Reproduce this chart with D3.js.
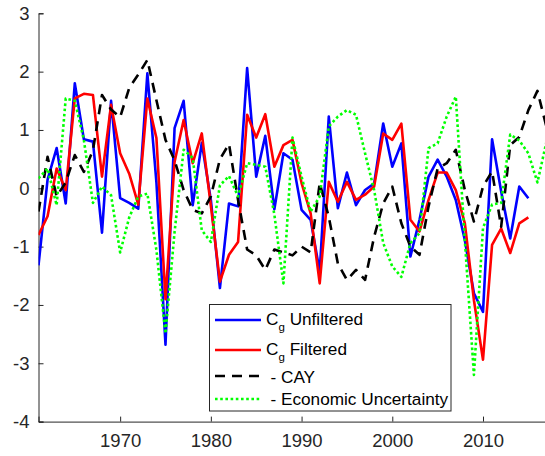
<!DOCTYPE html>
<html>
<head>
<meta charset="utf-8">
<script src="https://cdn.jsdelivr.net/npm/d3@7"></script>
<style>
  html, body { margin: 0; padding: 0; background: #fff; }
  svg { display: block; font-family: "Liberation Sans", Arial, Helvetica, sans-serif; }
</style>
</head>
<body>
<svg id="chart" width="545" height="456"></svg>
<script>
// Annual series, 1961 onwards
const yearsCg = d3.range(1961, 2016);
const yearsMacro = d3.range(1961, 2018);

const cgUnfiltered = [
  -1.32, 0.15, 0.69, -0.26, 1.80, 0.84, 0.80, -0.76, 1.50, -0.17,
  -0.25, -0.35, 1.97, 0.10, -2.68, 1.03, 1.50, -0.29, 0.78, -0.20,
  -1.71, -0.26, -0.31, 2.06, 0.20, 0.90, -0.36, 0.60, 0.49, -0.37,
  -0.54, -1.43, 1.23, -0.34, 0.27, -0.29, -0.03, 0.08, 1.11, 0.37,
  0.77, -1.17, -0.54, 0.20, 0.49, 0.20, -0.20, -0.89, -1.80, -2.12,
  0.84, -0.05, -0.86, 0.03, -0.17
];

const cgFiltered = [
  -0.80, -0.48, 0.34, -0.03, 1.54, 1.62, 1.60, 0.20, 1.43, 0.60,
  0.25, -0.28, 1.54, 0.86, -1.90, 0.45, 1.17, 0.43, 0.94, -0.30,
  -1.60, -1.14, -0.92, 1.26, 0.87, 1.27, 0.37, 0.74, 0.83, 0.09,
  -0.43, -1.63, 0.11, -0.23, 0.11, -0.20, -0.11, 0.03, 0.94, 0.83,
  1.11, -0.54, -0.74, -0.20, 0.27, 0.27, -0.03, -0.60, -1.92, -2.94,
  -0.97, -0.69, -1.11, -0.60, -0.50
];

const negCay = [
  -0.40, 0.54, -0.14, 0.10, 0.57, 0.28, 0.65, 1.60, 1.35, 1.22,
  1.72, 1.95, 2.20, 1.51, 0.83, 0.48, -0.03, -0.37, -0.43, -0.14,
  0.50, 0.76, -0.20, -1.05, -1.15, -1.40, -1.05, -1.10, -1.15, -1.00,
  -1.10, 0.09, -0.49, -1.29, -1.57, -1.40, -1.57, -0.83, -0.26, 0.03,
  -0.60, -1.00, -1.14, -0.31, 0.34, 0.43, 0.66, -0.03, -0.57, 0.03,
  0.29, -0.66, 0.74, 0.88, 1.34, 1.67, 1.05
];

const negUncertainty = [
  0.17, 0.34, -0.29, 1.54, 1.50, 0.83, -0.25, 0.03, -0.12, -1.10,
  -0.50, -0.14, -0.09, -1.06, -2.49, -0.75, 0.66, 0.52, -0.72, -0.92,
  0.05, 0.21, -0.14, 0.43, 0.40, 0.37, -0.45, -1.63, 0.87, 0.20,
  -0.40, -0.14, 1.06, 1.23, 1.34, 1.26, 0.60, -0.03, -0.94, -1.34,
  -1.52, -0.94, -0.77, 0.69, 0.77, 1.23, 1.57, -0.90, -3.20, -0.68,
  -0.28, -0.25, 0.92, 0.82, 0.60, 0.10, 0.80
];

const xTicks = [1970, 1980, 1990, 2000, 2010];
const yTicks = [-4, -3, -2, -1, 0, 1, 2, 3];

const svg = d3.select("#chart");
const axisColor = "#262626";

const x = d3.scaleLinear().domain([1961, 2017]).range([38.5, 546.5]);
const y = d3.scaleLinear().domain([-4, 3]).range([421.6, 13.3]);

svg.append("defs").append("clipPath").attr("id", "plotArea")
  .append("rect").attr("x", 38.5).attr("y", 0).attr("width", 510).attr("height", 422);

// Axes (ticks point inward), plain hyphen for negative labels
const xAxis = svg.append("g")
  .attr("transform", `translate(0,${y(-4)})`)
  .call(d3.axisBottom(x).tickValues(xTicks).tickFormat(d => String(d)).tickSize(-5).tickPadding(12));
const yAxis = svg.append("g")
  .attr("transform", `translate(${x(1961)},0)`)
  .call(d3.axisLeft(y).tickValues(yTicks).tickFormat(d => String(d)).tickSize(-5).tickPadding(9));

[xAxis, yAxis].forEach(g => {
  g.select(".domain").attr("stroke", axisColor).attr("stroke-width", 1);
  g.selectAll(".tick line").attr("stroke", axisColor).attr("stroke-width", 1);
  g.selectAll(".tick text").attr("fill", axisColor).attr("font-size", 18.5)
    .attr("font-family", "Liberation Sans, Arial, Helvetica, sans-serif");
});

const series = [
  { name: "Unfiltered", years: yearsCg, values: cgUnfiltered, color: "#0000ff", dash: null, width: 2.6 },
  { name: "Filtered", years: yearsCg, values: cgFiltered, color: "#ff0000", dash: null, width: 2.6 },
  { name: "- CAY", years: yearsMacro, values: negCay, color: "#000000", dash: "10,7", width: 2.6 },
  { name: "- Economic Uncertainty", years: yearsMacro, values: negUncertainty, color: "#00ff00", dash: "2.6,2.6", width: 2.6 }
];

const plot = svg.append("g").attr("clip-path", "url(#plotArea)");
series.forEach(s => {
  const line = d3.line().x((d, i) => x(s.years[i])).y(d => y(d));
  plot.append("path")
    .datum(s.values)
    .attr("d", line)
    .attr("fill", "none")
    .attr("stroke", s.color)
    .attr("stroke-width", s.width)
    .attr("stroke-dasharray", s.dash)
    .attr("stroke-linejoin", "round");
});

// Legend
const legend = svg.append("g");
legend.append("rect")
  .attr("x", 209.5).attr("y", 304.5).attr("width", 241.5).attr("height", 106.5)
  .attr("fill", "#fff").attr("stroke", axisColor).attr("stroke-width", 1);

const rowY = [320, 350, 376, 399];
const baseY = [325, 355, 383, 405];
series.forEach((s, i) => {
  legend.append("line")
    .attr("x1", 215).attr("x2", 261)
    .attr("y1", rowY[i]).attr("y2", rowY[i])
    .attr("stroke", s.color).attr("stroke-width", s.width)
    .attr("stroke-dasharray", s.dash);
  const t = legend.append("text")
    .attr("y", baseY[i]).attr("fill", "#000").attr("font-size", 17.2);
  if (i < 2) {
    t.attr("x", 266);
    t.append("tspan").text("C");
    t.append("tspan").attr("font-size", 11.5).attr("dy", 6).text("g");
    t.append("tspan").attr("dy", -6).attr("dx", 4.8).text(s.name);
  } else {
    t.attr("x", 270.5).text(s.name);
  }
});
</script>
</body>
</html>
